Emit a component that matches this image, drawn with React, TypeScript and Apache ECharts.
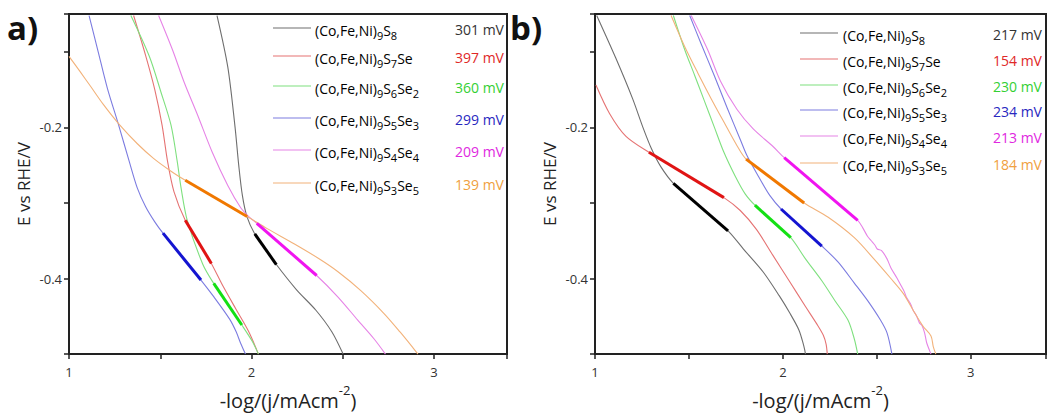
import React, { useEffect, useRef } from "react";
import * as echarts from "echarts";

const FONT = "'Open Sans', 'DejaVu Sans', sans-serif";

// Compositions (Co,Fe,Ni)9 S_s Se_se
const sulfur = [8, 7, 6, 5, 4, 3];
const selenium = [0, 1, 2, 3, 4, 5];

// Tafel slopes (mV) printed beside the legend entries
const tafelA = [301, 397, 360, 299, 209, 139];
const tafelB = [217, 154, 230, 234, 213, 184];

const thinColors = ["#6e6e6e", "#e57373", "#7fe07f", "#7c7ce0", "#e683e6", "#f2b27a"];
const fitColors = ["#000000", "#e01414", "#14e014", "#1414d0", "#f014f0", "#f07800"];
const valueColors = ["#333333", "#e02828", "#34d034", "#2828c0", "#e028e0", "#f0a040"];

// Panel a) polarisation curves: [-log(j), E]
const aS8 = [[1.811, -0.052], [1.87, -0.12], [1.91, -0.2], [1.93, -0.25], [1.95, -0.29], [1.975, -0.318], [2.018, -0.341], [2.077, -0.361], [2.136, -0.3815], [2.247, -0.415], [2.353, -0.442], [2.44, -0.4705], [2.502, -0.5]];
const aS7Se = [[1.354, -0.052], [1.42, -0.105], [1.47, -0.15], [1.51, -0.197], [1.54, -0.245], [1.575, -0.285], [1.637, -0.323], [1.708, -0.351], [1.78, -0.38], [1.846, -0.411], [1.916, -0.441], [1.985, -0.4705], [2.038, -0.5]];
const aS6Se2 = [[1.339, -0.052], [1.44, -0.106], [1.504, -0.1535], [1.559, -0.197], [1.593, -0.245], [1.614, -0.28], [1.648, -0.323], [1.733, -0.381], [1.793, -0.4065], [1.87, -0.434], [1.947, -0.4615], [2.004, -0.483], [2.038, -0.5]];
const aS5Se3 = [[1.11, -0.052], [1.16, -0.1], [1.21, -0.148], [1.272, -0.197], [1.33, -0.245], [1.374, -0.28], [1.42, -0.305], [1.47, -0.325], [1.515, -0.34], [1.619, -0.371], [1.723, -0.402], [1.793, -0.424], [1.881, -0.454], [1.916, -0.4705], [1.941, -0.486], [1.967, -0.5]];
const aS4Se4 = [[1.491, -0.052], [1.568, -0.098], [1.632, -0.141], [1.705, -0.184], [1.785, -0.233], [1.87, -0.277], [1.94, -0.306], [1.985, -0.318], [2.029, -0.327], [2.193, -0.3615], [2.357, -0.396], [2.474, -0.4245], [2.582, -0.455], [2.672, -0.48], [2.734, -0.5]];
const aS3Se5 = [[1.0, -0.106], [1.06, -0.126], [1.119, -0.146], [1.189, -0.17], [1.275, -0.196], [1.376, -0.222], [1.463, -0.241], [1.559, -0.258], [1.637, -0.27], [1.806, -0.294], [1.976, -0.318], [2.086, -0.334], [2.233, -0.354], [2.368, -0.3735], [2.474, -0.391], [2.599, -0.416], [2.725, -0.446], [2.815, -0.471], [2.886, -0.492], [2.912, -0.5]];

// Panel a) linear Tafel fits
const aFitS8 = [[2.018, -0.341], [2.136, -0.3815]];
const aFitS7Se = [[1.637, -0.323], [1.78, -0.38]];
const aFitS6Se2 = [[1.793, -0.4065], [1.947, -0.4615]];
const aFitS5Se3 = [[1.515, -0.34], [1.723, -0.402]];
const aFitS4Se4 = [[2.029, -0.327], [2.357, -0.396]];
const aFitS3Se5 = [[1.637, -0.27], [1.976, -0.318]];

// Panel b) polarisation curves
const bS8 = [[1.009, -0.052], [1.11, -0.108], [1.2, -0.162], [1.255, -0.2], [1.3, -0.228], [1.35, -0.252], [1.417, -0.274], [1.562, -0.3055], [1.708, -0.337], [1.79, -0.361], [1.894, -0.391], [1.981, -0.423], [2.035, -0.445], [2.085, -0.468], [2.111, -0.489], [2.12, -0.5]];
const bS7Se = [[1.005, -0.144], [1.078, -0.182], [1.165, -0.212], [1.287, -0.233], [1.486, -0.263], [1.686, -0.293], [1.773, -0.31], [1.859, -0.335], [1.946, -0.369], [2.033, -0.403], [2.12, -0.437], [2.18, -0.46], [2.215, -0.475], [2.23, -0.487], [2.236, -0.5]];
const bS6Se2 = [[1.417, -0.052], [1.477, -0.097], [1.53, -0.131], [1.582, -0.165], [1.634, -0.199], [1.686, -0.233], [1.747, -0.265], [1.799, -0.288], [1.851, -0.303], [1.946, -0.3245], [2.042, -0.346], [2.12, -0.374], [2.207, -0.403], [2.276, -0.429], [2.346, -0.455], [2.38, -0.48], [2.398, -0.5]];
const bS5Se3 = [[1.504, -0.052], [1.564, -0.089], [1.634, -0.131], [1.703, -0.174], [1.773, -0.216], [1.81, -0.238], [1.877, -0.268], [1.93, -0.29], [1.99, -0.308], [2.098, -0.3325], [2.207, -0.357], [2.293, -0.378], [2.38, -0.406], [2.45, -0.429], [2.519, -0.455], [2.554, -0.472], [2.58, -0.5]];
const bS4Se4 = [[1.512, -0.052], [1.599, -0.097], [1.668, -0.139], [1.755, -0.176], [1.842, -0.202], [1.946, -0.225], [2.007, -0.24], [2.2, -0.2815], [2.398, -0.323], [2.425, -0.333], [2.45, -0.344], [2.47, -0.35], [2.49, -0.356], [2.502, -0.361], [2.525, -0.363], [2.554, -0.374], [2.575, -0.386], [2.606, -0.399], [2.63, -0.41], [2.645, -0.417], [2.658, -0.425], [2.68, -0.434], [2.693, -0.442], [2.71, -0.449], [2.727, -0.459], [2.74, -0.462], [2.754, -0.472], [2.765, -0.485], [2.78, -0.495], [2.788, -0.5]];
const bS3Se5 = [[1.405, -0.052], [1.477, -0.093], [1.547, -0.128], [1.616, -0.161], [1.686, -0.193], [1.755, -0.224], [1.804, -0.242], [1.958, -0.271], [2.113, -0.3], [2.241, -0.319], [2.38, -0.346], [2.484, -0.374], [2.571, -0.399], [2.641, -0.42], [2.693, -0.442], [2.745, -0.463], [2.788, -0.476], [2.8, -0.49], [2.814, -0.5]];

// Panel b) linear Tafel fits
const bFitS8 = [[1.417, -0.274], [1.708, -0.337]];
const bFitS7Se = [[1.287, -0.233], [1.686, -0.293]];
const bFitS6Se2 = [[1.851, -0.303], [2.042, -0.346]];
const bFitS5Se3 = [[1.99, -0.308], [2.207, -0.357]];
const bFitS4Se4 = [[2.007, -0.24], [2.398, -0.323]];
const bFitS3Se5 = [[1.804, -0.242], [2.113, -0.3]];

const xTickLabels = [1, 2, 3];
const yTickLabels = [-0.2, -0.4];

const curves = [
  [aS8, aS7Se, aS6Se2, aS5Se3, aS4Se4, aS3Se5],
  [bS8, bS7Se, bS6Se2, bS5Se3, bS4Se4, bS3Se5],
];
const fits = [
  [aFitS8, aFitS7Se, aFitS6Se2, aFitS5Se3, aFitS4Se4, aFitS3Se5],
  [bFitS8, bFitS7Se, bFitS6Se2, bFitS5Se3, bFitS4Se4, bFitS3Se5],
];
const tafel = [tafelA, tafelB];

const grids = [
  { left: 69, top: 14, width: 438, height: 348 },
  { left: 595, top: 14, width: 461, height: 350 },
];

// legend placement per panel
const legendLayout = [
  { lineX: 273, textX: 315, valueX: 455, rows: [28, 56, 86, 118, 150, 183] },
  { lineX: 800, textX: 843, valueX: 993, rows: [33, 59, 85, 110, 136, 163] },
];

const formula = (s: number, se: number) => {
  let t = `{n|(Co,Fe,Ni)}{s|9}{n|S}{s|${s}}`;
  if (se === 1) t += `{n|Se}`;
  else if (se > 1) t += `{n|Se}{s|${se}}`;
  return t;
};

const legendRich = {
  n: { fontFamily: FONT, fontSize: 14, color: "#333", lineHeight: 21, verticalAlign: "middle" },
  s: { fontFamily: FONT, fontSize: 11, color: "#333", lineHeight: 11, verticalAlign: "bottom" },
};

export default function App() {
  const ref = useRef<HTMLDivElement>(null);

  useEffect(() => {
    if (!ref.current) return;
    const chart = echarts.init(ref.current, undefined, { renderer: "svg" });

    const xAxes = grids.map((_, p) => ({
      type: "value",
      gridIndex: p,
      min: 1,
      max: 3.4,
      interval: 0.5,
      axisLine: { show: true, lineStyle: { color: "#222", width: 2 } },
      axisTick: { show: true, length: 5, lineStyle: { color: "#222", width: 1.5 } },
      axisLabel: {
        fontFamily: FONT,
        fontSize: 13,
        color: "#333",
        margin: 11,
        formatter: (v: number) => (xTickLabels.some((t) => Math.abs(t - v) < 1e-6) ? String(Math.round(v)) : ""),
      },
      splitLine: { show: false },
      name: "{t|-log/(j/mAcm}{sup|-2}{t|)}",
      nameLocation: "middle",
      nameGap: 28,
      nameTextStyle: {
        rich: {
          t: { fontFamily: FONT, fontSize: 20, color: "#222", lineHeight: 27, verticalAlign: "bottom" },
          sup: { fontFamily: FONT, fontSize: 13, color: "#222", lineHeight: 13, verticalAlign: "top" },
        },
      },
    }));

    const yAxes = grids.map((_, p) => ({
      type: "value",
      gridIndex: p,
      min: -0.5,
      max: -0.05,
      interval: 0.1,
      axisLine: { show: true, lineStyle: { color: "#222", width: 2 } },
      axisTick: { show: true, length: 5, lineStyle: { color: "#222", width: 1.5 } },
      axisLabel: {
        fontFamily: FONT,
        fontSize: 13,
        color: "#333",
        margin: 7,
        formatter: (v: number) => {
          const t = yTickLabels.find((l) => Math.abs(l - v) < 1e-6);
          return t === undefined ? "" : t.toFixed(1);
        },
      },
      splitLine: { show: false },
      name: "E vs RHE/V",
      nameLocation: "middle",
      nameRotate: 90,
      nameGap: 37,
      nameTextStyle: { fontFamily: FONT, fontSize: 17, color: "#222" },
    }));

    const series: any[] = [];
    curves.forEach((panel, p) => {
      panel.forEach((data, i) => {
        series.push({
          type: "line",
          xAxisIndex: p,
          yAxisIndex: p,
          data,
          showSymbol: false,
          smooth: 0.3,
          clip: true,
          lineStyle: { color: thinColors[i], width: 1.1 },
          z: 2,
        });
      });
      fits[p].forEach((data, i) => {
        series.push({
          type: "line",
          xAxisIndex: p,
          yAxisIndex: p,
          data,
          showSymbol: false,
          clip: true,
          lineStyle: { color: fitColors[i], width: 3 },
          z: 3,
        });
      });
    });

    const graphic: any[] = [];
    legendLayout.forEach((lay, p) => {
      lay.rows.forEach((y, i) => {
        graphic.push({
          type: "line",
          shape: { x1: lay.lineX, y1: y, x2: lay.lineX + 38, y2: y },
          style: { stroke: thinColors[i], lineWidth: 1.2 },
        });
        graphic.push({
          type: "text",
          x: lay.textX,
          y: y + 2,
          style: {
            text: formula(sulfur[i], selenium[i]),
            rich: legendRich,
            verticalAlign: "middle",
            align: "left",
          },
        });
        graphic.push({
          type: "text",
          x: lay.valueX,
          y: y + 1,
          style: {
            text: `${tafel[p][i]} mV`,
            fontFamily: FONT,
            fontSize: 14,
            fill: valueColors[i],
            verticalAlign: "middle",
            align: "left",
          },
        });
      });
    });
    graphic.push({
      type: "text",
      x: 7,
      y: 27,
      style: { text: "a)", fontFamily: FONT, fontSize: 33, fontWeight: "bold", fill: "#111", verticalAlign: "middle" },
    });
    graphic.push({
      type: "text",
      x: 510,
      y: 27,
      style: { text: "b)", fontFamily: FONT, fontSize: 33, fontWeight: "bold", fill: "#111", verticalAlign: "middle" },
    });

    chart.setOption({
      animation: false,
      backgroundColor: "#ffffff",
      grid: grids.map((g) => ({ ...g, show: true, borderColor: "#222", borderWidth: 2, backgroundColor: "transparent" })),
      xAxis: xAxes,
      yAxis: yAxes,
      series,
      graphic,
    });

    return () => chart.dispose();
  }, []);

  return <div ref={ref} style={{ position: "fixed", left: 0, top: 0, width: 1049, height: 415 }} />;
}
